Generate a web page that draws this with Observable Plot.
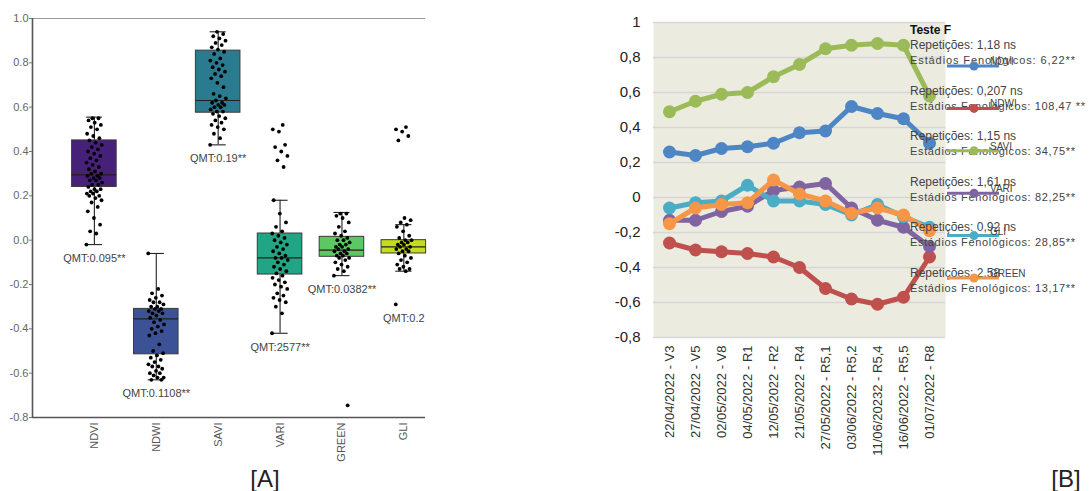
<!DOCTYPE html>
<html>
<head>
<meta charset="utf-8">
<script src="https://cdn.jsdelivr.net/npm/d3@7"></script>
<script src="https://cdn.jsdelivr.net/npm/@observablehq/plot@0.6"></script>
<style>
  html, body { margin: 0; padding: 0; background: #fff; }
  #wrap { position: relative; width: 1091px; height: 491px; overflow: hidden; font-family: "Liberation Sans", Arial, sans-serif; }
  #panelA { position: absolute; left: 0; top: 0; }
  #panelB { position: absolute; left: 590px; top: 0; }
</style>
</head>
<body>
<div id="wrap">
  <div id="panelA"></div>
  <div id="panelB"></div>
</div>
<script>
// ---------------- Panel A data ----------------
const indices = ["NDVI", "NDWI", "SAVI", "VARI", "GREEN", "GLI"];
const boxColors = ["#47207a", "#3b5297", "#2a7a90", "#22a585", "#5cc863", "#c6dd1f"];
const q1 = [0.24, -0.515, 0.575, -0.155, -0.075, -0.06];
const median = [0.295, -0.355, 0.63, -0.08, -0.045, -0.03];
const q3 = [0.45, -0.31, 0.855, 0.03, 0.015, 0.0];
const whiskLo = [-0.02, -0.63, 0.43, -0.42, -0.16, -0.14];
const whiskHi = [0.555, -0.06, 0.94, 0.18, 0.125, 0.07];
const qmtLabels = ["QMT:0.095**", "QMT:0.1108**", "QMT:0.19**", "QMT:2577**", "QMT:0.0382**", "QMT:0.2"];

const ptsNDVI = [-0.02, 0.03, 0.04, 0.07, 0.1, 0.13, 0.15, 0.17, 0.18, 0.19, 0.2, 0.2, 0.21, 0.21, 0.22, 0.22, 0.23, 0.23, 0.24, 0.25, 0.25, 0.26, 0.27, 0.27, 0.28, 0.28, 0.29, 0.29, 0.3, 0.3, 0.31, 0.32, 0.33, 0.34, 0.35, 0.36, 0.37, 0.38, 0.39, 0.4, 0.41, 0.42, 0.43, 0.44, 0.45, 0.46, 0.47, 0.48, 0.5, 0.51, 0.52, 0.53, 0.54, 0.55, 0.55];
const ptsNDWI = [-0.06, -0.22, -0.24, -0.25, -0.26, -0.27, -0.28, -0.28, -0.29, -0.3, -0.3, -0.31, -0.31, -0.32, -0.32, -0.33, -0.33, -0.34, -0.35, -0.36, -0.37, -0.38, -0.39, -0.4, -0.41, -0.42, -0.43, -0.47, -0.5, -0.51, -0.52, -0.53, -0.54, -0.55, -0.56, -0.57, -0.57, -0.58, -0.59, -0.6, -0.6, -0.61, -0.62, -0.62, -0.63, -0.63];
const ptsSAVI = [0.43, 0.46, 0.48, 0.5, 0.51, 0.52, 0.53, 0.54, 0.55, 0.56, 0.57, 0.58, 0.58, 0.59, 0.6, 0.6, 0.61, 0.61, 0.62, 0.62, 0.63, 0.64, 0.65, 0.66, 0.69, 0.71, 0.73, 0.74, 0.75, 0.76, 0.77, 0.78, 0.79, 0.8, 0.81, 0.82, 0.84, 0.85, 0.86, 0.87, 0.88, 0.89, 0.9, 0.91, 0.92, 0.93, 0.94];
const ptsVARI = [-0.42, -0.33, -0.3, -0.28, -0.27, -0.26, -0.25, -0.24, -0.22, -0.21, -0.2, -0.19, -0.18, -0.17, -0.16, -0.15, -0.14, -0.13, -0.12, -0.11, -0.1, -0.09, -0.08, -0.08, -0.07, -0.06, -0.05, -0.04, -0.03, -0.02, -0.01, 0.0, 0.01, 0.02, 0.03, 0.04, 0.06, 0.08, 0.12, 0.18, 0.33, 0.36, 0.38, 0.4, 0.42, 0.43, 0.49, 0.5, 0.52];
const ptsGREEN = [-0.16, -0.14, -0.13, -0.12, -0.11, -0.1, -0.09, -0.08, -0.08, -0.07, -0.07, -0.06, -0.06, -0.05, -0.05, -0.04, -0.04, -0.03, -0.03, -0.02, -0.02, -0.01, 0.0, 0.0, 0.01, 0.02, 0.03, 0.04, 0.06, 0.08, 0.1, 0.11, 0.12, 0.12];
const ptsGLI = [-0.29, -0.14, -0.13, -0.13, -0.12, -0.11, -0.1, -0.09, -0.08, -0.07, -0.06, -0.05, -0.05, -0.04, -0.04, -0.03, -0.03, -0.02, -0.02, -0.01, -0.01, 0.0, 0.0, 0.01, 0.02, 0.04, 0.06, 0.07, 0.08, 0.09, 0.1, 0.45, 0.47, 0.49, 0.5, 0.51];
const farOutliers = [{cat: "GREEN", v: -0.745}];
const yTicksA = [-0.8, -0.6, -0.4, -0.2, 0.0, 0.2, 0.4, 0.6, 0.8, 1.0];

// ---------------- Panel B data ----------------
const dates = ["22/04/2022 - V3", "27/04/2022 - V5", "02/05/2022 - V8", "04/05/2022 - R1", "12/05/2022 - R2", "21/05/2022 - R4", "27/05/2022 - R5,1", "03/06/2022 - R5,2", "11/06/20232 - R5,4", "16/06/2022 - R5,5", "01/07/2022 - R8"];
const seriesNames = ["NDVI", "NDWI", "SAVI", "VARI", "GLI", "GREEN"];
const seriesColors = ["#4e85c5", "#c0504d", "#9bbb59", "#8064a2", "#4bacc6", "#f79646"];
const valNDVI = [0.26, 0.24, 0.28, 0.29, 0.31, 0.37, 0.38, 0.52, 0.48, 0.45, 0.31];
const valNDWI = [-0.26, -0.30, -0.31, -0.32, -0.34, -0.40, -0.52, -0.58, -0.61, -0.57, -0.34];
const valSAVI = [0.49, 0.55, 0.59, 0.60, 0.69, 0.76, 0.85, 0.87, 0.88, 0.87, 0.58];
const valVARI = [-0.13, -0.13, -0.08, -0.05, 0.04, 0.06, 0.08, -0.06, -0.13, -0.17, -0.28];
const valGLI = [-0.06, -0.03, -0.02, 0.07, -0.02, -0.02, -0.04, -0.10, -0.04, -0.11, -0.17];
const valGREEN = [-0.15, -0.06, -0.04, -0.03, 0.10, 0.02, -0.02, -0.09, -0.06, -0.10, -0.19];
const yTicksB = [-0.8, -0.6, -0.4, -0.2, 0, 0.2, 0.4, 0.6, 0.8, 1];
const repTexts = ["Repetições:  1,18  ns", "Repetições: 0,207 ns", "Repetições: 1,15 ns", "Repetições: 1,61 ns", "Repetições: 0,92 ns", "Repetições: 2,58"];
const estTexts = ["Estádios Fenológicos: 6,22**", "Estádios Fenológicos: 108,47 **", "Estádios Fenológicos: 34,75**", "Estádios Fenológicos: 82,25**", "Estádios Fenológicos: 28,85**", "Estádios Fenológicos: 13,17**"];

// ---------------- Panel A ----------------
const ptLists = [ptsNDVI, ptsNDWI, ptsSAVI, ptsVARI, ptsGREEN, ptsGLI];
const stats = indices.map((c, i) => ({
  i, cat: c, color: boxColors[i], q1: q1[i], med: median[i], q3: q3[i], lo: whiskLo[i], hi: whiskHi[i],
  qmt: qmtLabels[i], anchor: Math.min(whiskLo[i], d3.min(ptLists[i]))
}));
const pts = ptLists.flatMap((list, i) => list.map((v, k) => ({i, v, k})))
  .concat(farOutliers.map((o, k) => ({i: indices.indexOf(o.cat), v: o.v, k: 3})));
const jit = d => d.i + (((d.k * 0.6180339887) % 1) - 0.5) * 0.26;
const bw = 0.36, cw = 0.13;

const plotA = Plot.plot({
  width: 440, height: 491,
  marginLeft: 32, marginRight: 15, marginTop: 18, marginBottom: 74,
  style: {fontFamily: "Liberation Sans, Arial, sans-serif", background: "transparent"},
  x: {type: "linear", domain: [-1, 5.35], label: null},
  y: {domain: [-0.8, 1.0], label: null},
  marks: [
    Plot.ruleY([1.0], {stroke: "#9a9a9a", strokeWidth: 1.2}),
    Plot.ruleY([-0.8], {stroke: "#555", strokeWidth: 1.6}),
    Plot.ruleX([-1], {stroke: "#555", strokeWidth: 1.6}),
    Plot.axisY({ticks: yTicksA, tickFormat: d => d.toFixed(1), tickSize: 3, tickPadding: 1, fontSize: 11, fill: "#666", stroke: "#777", label: null}),
    Plot.axisX({ticks: indices.map((c, i) => i), tickFormat: i => indices[i], tickRotate: -90, tickSize: 0, tickPadding: 5, fontSize: 11, fill: "#555", label: null}),
    Plot.ruleX(stats, {x: "i", y1: "lo", y2: "hi", stroke: "#222", strokeWidth: 1.1}),
    Plot.ruleY(stats, {y: "lo", x1: d => d.i - cw, x2: d => d.i + cw, stroke: "#222", strokeWidth: 1.1}),
    Plot.ruleY(stats, {y: "hi", x1: d => d.i - cw, x2: d => d.i + cw, stroke: "#222", strokeWidth: 1.1}),
    Plot.rect(stats, {x1: d => d.i - bw, x2: d => d.i + bw, y1: "q1", y2: "q3", fill: d => d.color, stroke: "#3a3a3a", strokeWidth: 1}),
    Plot.ruleY(stats, {y: "med", x1: d => d.i - bw, x2: d => d.i + bw, stroke: "#222", strokeWidth: 1.2}),
    Plot.dot(pts, {x: jit, y: "v", r: 1.9, fill: "#000", stroke: null}),
    Plot.text(stats, {x: "i", y: "anchor", text: "qmt", dy: 14, fontSize: 11, fill: "#444"})
  ]
});
document.getElementById("panelA").appendChild(plotA);

// ---------------- Panel B ----------------
const valLists = [valNDVI, valNDWI, valSAVI, valVARI, valGLI, valGREEN];
const rowsB = seriesNames.map((s, si) => dates.map((d, di) => ({series: s, date: d, value: valLists[si][di]})));
const fmtB = d => (Math.round(d * 10) / 10).toString().replace(".", ",");

const plotB = Plot.plot({
  width: 360, height: 480,
  marginLeft: 63, marginRight: 5, marginTop: 22, marginBottom: 143,
  style: {fontFamily: "Liberation Sans, Arial, sans-serif", background: "transparent"},
  x: {type: "point", domain: dates, padding: 0.5, label: null},
  y: {domain: [-0.8, 1], label: null},
  marks: [
    Plot.frame({fill: "#ecebe0", stroke: null}),
    Plot.gridY({ticks: yTicksB, stroke: "#d6d6d6", strokeOpacity: 1, strokeWidth: 1.5}),
    Plot.axisY({ticks: yTicksB, tickFormat: fmtB, tickSize: 0, tickPadding: 13, fontSize: 15, fill: "#222", label: null}),
    Plot.axisX({tickRotate: -90, tickSize: 0, tickPadding: 8, fontSize: 13, fill: "#333", label: null}),
    ...rowsB.flatMap((rows, si) => [
      Plot.line(rows, {x: "date", y: "value", stroke: seriesColors[si], strokeWidth: 5}),
      Plot.dot(rows, {x: "date", y: "value", fill: seriesColors[si], r: 6.5, stroke: null})
    ])
  ]
});
document.getElementById("panelB").appendChild(plotB);

// ---------------- Overlay: annotations, legend, panel tags ----------------
const ov = d3.select("#wrap").append("svg")
  .attr("width", 1091).attr("height", 491)
  .style("position", "absolute").style("left", 0).style("top", 0)
  .style("font-family", "Liberation Sans, Arial, sans-serif");

ov.append("text").attr("x", 265).attr("y", 487).attr("text-anchor", "middle")
  .attr("font-size", 24).attr("fill", "#222").text("[A]");
ov.append("text").attr("x", 1066).attr("y", 487).attr("text-anchor", "middle")
  .attr("font-size", 24).attr("fill", "#222").text("[B]");

ov.append("text").attr("x", 910).attr("y", 34).attr("font-size", 12).attr("font-weight", "bold")
  .attr("fill", "#111").text("Teste F");

repTexts.forEach((t, k) => {
  const y0 = 45 + k * 45.6;
  ov.append("text").attr("x", 910).attr("y", y0 + 4).attr("font-size", 12).attr("fill", "#444").text(t);
  ov.append("text").attr("x", 910).attr("y", y0 + 15 + 4).attr("font-size", 11).attr("fill", "#444")
    .attr("textLength", k === 1 ? 175 : 165).text(estTexts[k]);
});

seriesNames.forEach((s, k) => {
  const ly = 66 + k * 42.4;
  const g = ov.append("g");
  g.append("line").attr("x1", 947).attr("x2", 999).attr("y1", ly).attr("y2", ly)
    .attr("stroke", seriesColors[k]).attr("stroke-width", 3);
  g.append("circle").attr("cx", 974).attr("cy", ly).attr("r", 4.5).attr("fill", seriesColors[k]);
  g.append("text").attr("x", 990).attr("y", ly - 1).attr("font-size", 10).attr("fill", "#444").text(s);
});
</script>
</body>
</html>
